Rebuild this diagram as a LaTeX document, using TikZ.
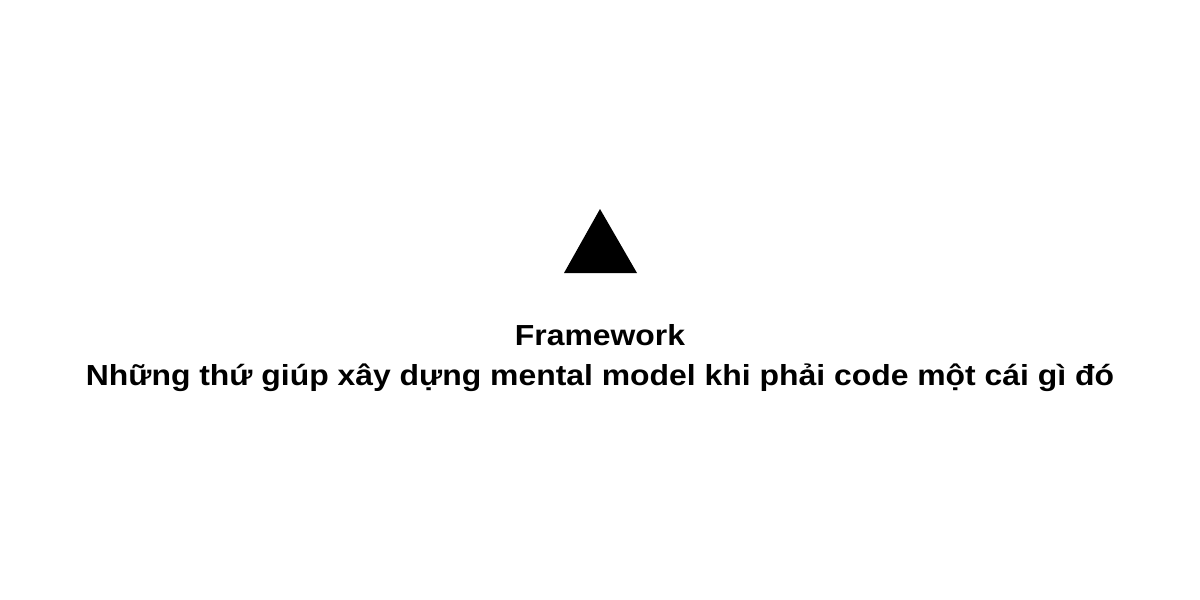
\documentclass[tikz,border=0pt]{standalone}
\usepackage{fontspec}
\setmainfont{Liberation Sans}[FakeStretch=1.1]
\begin{document}
\begin{tikzpicture}[x=1pt,y=-1pt]
\tikzset{lbl/.style={font=\fontsize{29}{40}\selectfont\bfseries, text=black, inner sep=0pt, anchor=base}}
\useasboundingbox[fill=white] (0,0) rectangle (1200,600);
\fill[black] (600,209) -- (637,273) -- (564,273) -- cycle;
\node[lbl] (t1) at (600,345) {Framework};
\node[lbl] (t2) at (600,385) {Những thứ giúp xây dựng mental model khi phải code một cái gì đó};
\end{tikzpicture}
\end{document}
